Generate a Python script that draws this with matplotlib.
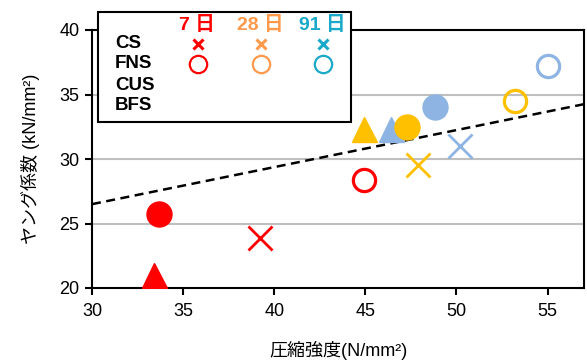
import numpy as np
import matplotlib.pyplot as plt
from matplotlib.patches import Rectangle

plt.rcParams['font.family'] = ['Liberation Sans', 'Noto Sans CJK JP', 'DejaVu Sans']

# compressive strength (N/mm2) and Young's modulus (kN/mm2), ages 7 / 28 / 91 days
ages = ['7 日', '28 日', '91 日']
cs_x = [39.2, 47.9, 50.2]
cs_y = [23.9, 29.5, 31.0]
fns_x = [44.9, 53.2, 55.0]
fns_y = [28.4, 34.5, 37.2]
cus_x = [33.7, 47.3, 48.8]
cus_y = [25.7, 32.5, 34.0]
bfs_x = [33.4, 44.9, 46.4]
bfs_y = [21.0, 32.35, 32.35]

trend_x = [30, 57]
trend_y = [26.5, 34.25]

row_labels = ['CS', 'FNS', 'CUS', 'BFS']
xticks = [30, 35, 40, 45, 50, 55]
yticks = [20, 25, 30, 35, 40]

colors = ['#FF0000', '#FFC000', '#8DB4E2']
legend_colors = ['#FF0000', '#FF9A4D', '#1AA9C8']

fig = plt.figure(figsize=(5.87, 3.62), dpi=100)
ax = fig.add_axes([92/587, 1-288/362, 492/587, 258/362])

for y in [25, 30, 35]:
    ax.axhline(y, color='#BFBFBF', lw=1.5, zorder=0)

ax.plot(trend_x, trend_y, 'k--', lw=1.8, dashes=(3.6, 2.2), zorder=2)

for i in range(3):
    c = colors[i]
    ax.plot(bfs_x[i], bfs_y[i], '^', ms=18, color=c, mec=c, zorder=3)
for i in range(3):
    c = colors[i]
    ax.plot(cus_x[i], cus_y[i], 'o', ms=18, color=c, mec=c, zorder=4)
    ax.plot(fns_x[i], fns_y[i], 'o', ms=16, mfc='none', mec=c, mew=2.3, zorder=4)
    ax.plot(cs_x[i], cs_y[i], 'x', ms=17, color=c, mew=2, zorder=4)

ax.set_xlim(30, 57)
ax.set_ylim(20, 40)
ax.set_xticks(xticks)
ax.set_yticks(yticks)
ax.tick_params(direction='out', length=5, width=1.5, labelsize=13)
ax.tick_params(axis='x', pad=6)
ax.tick_params(axis='y', pad=4)
for s in ax.spines.values():
    s.set_linewidth(1.5)
ax.set_xlabel('圧縮強度(N/mm²)', fontsize=13, labelpad=15)
ax.set_ylabel('ヤング係数 (kN/mm²)', fontsize=13, labelpad=14)

# hand-made legend box
lax = fig.add_axes([98/587, 1-122/362, 253/587, 110/362])
lax.set_xlim(98, 351)
lax.set_ylim(122, 12)
lax.axis('off')
lax.add_patch(Rectangle((98, 12), 253, 110, fc='white', ec='black', lw=1.5, clip_on=False))
col_x = [198, 261, 323]
row_y = [44, 64, 85, 106]
for j, lab in enumerate(row_labels):
    lax.text(115, row_y[j], lab, fontsize=13.5, fontweight='bold', va='center', ha='left')
for i in range(3):
    c = legend_colors[i]
    lax.text(col_x[i] - 1, 29.5, ages[i], fontsize=14, fontweight='bold', color=c,
             ha='center', va='baseline')
    lax.plot(col_x[i], row_y[0], 'x', ms=7, color=c, mew=2.2)
    lax.plot(col_x[i], row_y[1], 'o', ms=12.5, mfc='none', mec=c, mew=1.6)

fig.savefig('out.png', dpi=100)
